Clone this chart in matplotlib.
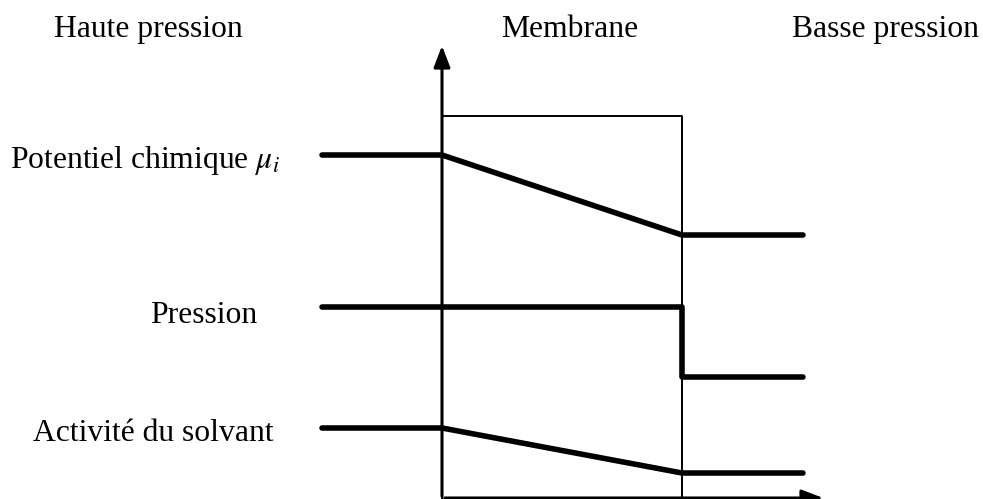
import matplotlib
matplotlib.use('Agg')
import matplotlib.pyplot as plt

plt.rcParams['font.family'] = ['Liberation Serif', 'DejaVu Serif']
plt.rcParams['mathtext.fontset'] = 'stix'

# positions des zones (en pixels de la figure)
x_haute = [322, 442]
x_membrane = [442, 682]
x_basse = [682, 803]

# niveaux (y vers le bas)
potentiel = [155, 155, 235, 235]
pression = [307, 307, 377, 377]
activite = [428, 428, 473, 473]

titres = ['Haute pression', 'Membrane', 'Basse pression']
titres_x = [148, 570, 886]
labels = ['Potentiel chimique $\\mu_i$', 'Pression', 'Activité du solvant']
labels_x = [10, 150, 33]
labels_base = [168, 323, 441]

fig = plt.figure(figsize=(9.83, 4.99), dpi=100)
ax = fig.add_axes([0, 0, 1, 1])
ax.set_xlim(0, 983)
ax.set_ylim(499, 0)
ax.axis('off')

lw = 4.0
style = dict(color='black', lw=lw, solid_capstyle='round', solid_joinstyle='round')
# potentiel chimique : plat, décroît dans la membrane, plat
ax.plot([x_haute[0], x_haute[1], x_membrane[1], x_basse[1]], potentiel, **style)
# pression : plat jusqu'à la sortie, chute brutale
ax.plot([x_haute[0], x_membrane[1], x_membrane[1], x_basse[1]], pression, **style)
# activité du solvant
ax.plot([x_haute[0], x_haute[1], x_membrane[1], x_basse[1]], activite, **style)

# membrane (rectangle)
ax.plot([x_membrane[0], x_membrane[0], x_membrane[1], x_membrane[1]],
        [499, 116, 116, 499], color='black', lw=1.4)

# axes avec flèches
arrow = dict(arrowstyle='-|>,head_length=1.3,head_width=0.5', color='black', lw=2.2)
ax.annotate('', xy=(x_membrane[0], 43), xytext=(x_membrane[0], 499), arrowprops=arrow)
ax.annotate('', xy=(826, 498), xytext=(x_membrane[0], 498), arrowprops=arrow)

for t, x in zip(titres, titres_x):
    ax.text(x, 37, t, fontsize=22.8, ha='center', va='baseline')

for t, x, y in zip(labels, labels_x, labels_base):
    ax.text(x, y, t, fontsize=22.8, ha='left', va='baseline')

fig.savefig('out.png', dpi=100)
